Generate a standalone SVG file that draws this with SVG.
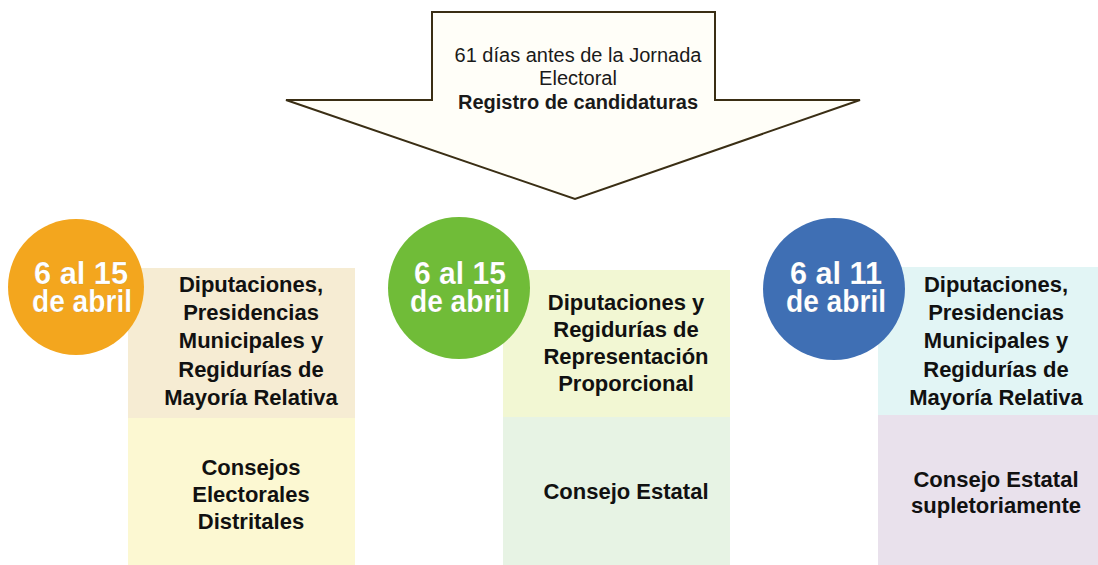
<svg xmlns="http://www.w3.org/2000/svg" width="1098" height="565" viewBox="0 0 1098 565">
<style>
.bg{fill:#ffffff}
.arrow{fill:#fffef8;stroke:#3a2e14;stroke-width:2;stroke-linejoin:miter}
.top{font-family:"Liberation Sans",Arial,sans-serif;font-size:20px;fill:#1a1a1a;text-anchor:middle}
.topb{font-weight:bold}
.date{font-family:"Liberation Sans",Arial,sans-serif;font-weight:bold;font-size:32px;fill:#ffffff;text-anchor:middle;stroke:rgba(0,0,0,0.15);stroke-width:0.6}
.lbl{font-family:"Liberation Sans",Arial,sans-serif;font-weight:bold;font-size:22px;fill:#111111;text-anchor:middle}
</style>
<rect class="bg" x="0" y="0" width="1098" height="565"/>
<g id="arrow">
<path class="arrow" d="M432,12 L715,12 L715,100 L860,100 L575,199 L286,100 L432,100 Z"/>
<text class="top"><tspan x="578" y="62">61 días antes de la Jornada</tspan><tspan x="578" y="85">Electoral</tspan><tspan class="topb" x="578" y="109">Registro de candidaturas</tspan></text>
</g>
<g id="col1">
<rect x="128" y="268" width="227" height="150" fill="#f6ecd3"/>
<rect x="128" y="418" width="227" height="147" fill="#fcf8d2"/>
<circle cx="76" cy="287" r="68" fill="#f3a61e"/>
<text class="date"><tspan x="81" y="284" textLength="94" lengthAdjust="spacingAndGlyphs">6 al 15</tspan><tspan x="82" y="312" textLength="100" lengthAdjust="spacingAndGlyphs">de abril</tspan></text>
<text class="lbl"><tspan x="251" y="292">Diputaciones,</tspan><tspan x="251" y="320">Presidencias</tspan><tspan x="251" y="348">Municipales y</tspan><tspan x="251" y="377">Regidurías de</tspan><tspan x="251" y="405">Mayoría Relativa</tspan></text>
<text class="lbl"><tspan x="251" y="475">Consejos</tspan><tspan x="251" y="502">Electorales</tspan><tspan x="251" y="529">Distritales</tspan></text>
</g>
<g id="col2">
<rect x="503" y="270" width="227" height="147" fill="#f2f7d3"/>
<rect x="503" y="417" width="227" height="148" fill="#e7f3e4"/>
<circle cx="459" cy="288" r="71" fill="#70bc38"/>
<text class="date"><tspan x="460" y="284" textLength="92" lengthAdjust="spacingAndGlyphs">6 al 15</tspan><tspan x="460" y="312" textLength="100" lengthAdjust="spacingAndGlyphs">de abril</tspan></text>
<text class="lbl"><tspan x="626" y="310">Diputaciones y</tspan><tspan x="626" y="337">Regidurías de</tspan><tspan x="626" y="364">Representación</tspan><tspan x="626" y="391">Proporcional</tspan></text>
<text class="lbl" x="626" y="499">Consejo Estatal</text>
</g>
<g id="col3">
<rect x="878" y="267" width="220" height="148" fill="#e2f5f5"/>
<rect x="878" y="415" width="220" height="150" fill="#e9e1ec"/>
<circle cx="834" cy="289" r="71" fill="#3f6fb4"/>
<text class="date"><tspan x="836" y="284" textLength="92" lengthAdjust="spacingAndGlyphs">6 al 11</tspan><tspan x="836" y="312" textLength="100" lengthAdjust="spacingAndGlyphs">de abril</tspan></text>
<text class="lbl"><tspan x="996" y="292">Diputaciones,</tspan><tspan x="996" y="320">Presidencias</tspan><tspan x="996" y="348">Municipales y</tspan><tspan x="996" y="377">Regidurías de</tspan><tspan x="996" y="405">Mayoría Relativa</tspan></text>
<text class="lbl"><tspan x="996" y="487">Consejo Estatal</tspan><tspan x="996" y="513">supletoriamente</tspan></text>
</g>
</svg>
